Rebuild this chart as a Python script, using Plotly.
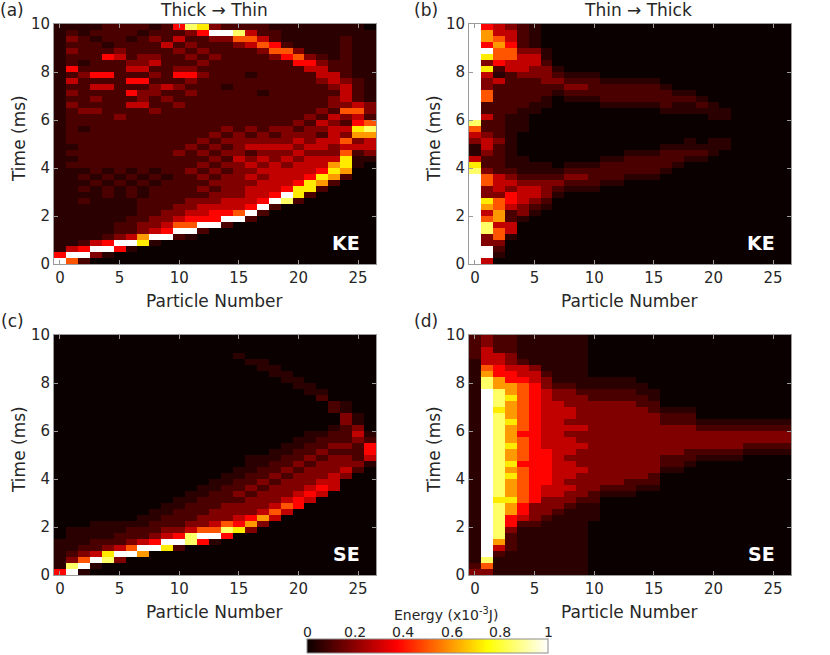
import plotly.graph_objects as go

FONT = "DejaVu Sans"

PARTICLES = [0, 1, 2, 3, 4, 5, 6, 7, 8, 9, 10, 11, 12, 13, 14, 15, 16, 17, 18,
             19, 20, 21, 22, 23, 24, 25, 26]
TIME_MS = [0.125, 0.375, 0.625, 0.875, 1.125, 1.375, 1.625, 1.875, 2.125, 2.375,
           2.625, 2.875, 3.125, 3.375, 3.625, 3.875, 4.125, 4.375, 4.625, 4.875,
           5.125, 5.375, 5.625, 5.875, 6.125, 6.375, 6.625, 6.875, 7.125, 7.375,
           7.625, 7.875, 8.125, 8.375, 8.625, 8.875, 9.125, 9.375, 9.625, 9.875]

# energy levels (x1e-3 J), one character per cell
LEVEL_KEY = "0123456789a"
LEVEL_VALUES = [0.0, 0.05, 0.1, 0.18, 0.28, 0.38, 0.5, 0.6, 0.72, 0.85, 1.0]

# (a) KE, thick -> thin: one string per time row, top row (t~10 ms) first
KE_THICK_ROWS = [
    "1111222212 59832 22211 11111 10",
    "1212222122 235aa 94221 11111 11",
    "1321221232 42233 66421 11112 11",
    "1222122224 23222 34652 11112 11",
    "1322232222 32322 22366 31112 11",
    "1222542332 23232 22235 63212 11",
    "1212223342 22322 22222 55322 11",
    "1522224422 33222 22222 24422 11",
    "1235522232 55322 21222 22442 11",
    "1422225522 23222 22222 22343 21",
    "1224422234 32221 22222 22234 21",
    "1322225332 23222 22122 22224 21",
    "1223222323 22222 22222 22234 21",
    "1322224422 32222 22222 22233 43",
    "1233222232 22222 22222 22326 63",
    "1222232222 22222 22222 23243 42",
    "1222222222 22222 22222 32432 56",
    "1212222222 22223 23233 23344 89",
    "1222222222 22232 32323 33243 77",
    "1222222222 22323 33333 43446 34",
    "1122222222 23232 34444 34434 44",
    "1222222222 32323 32333 43336 23",
    "1122222222 22232 43434 34448 11",
    "1222222222 22323 34343 44478 10",
    "1112121212 23232 33444 44587 00",
    "1121212121 22323 34344 45872 00",
    "1112121212 22233 33444 58720 00",
    "1121212122 22323 34445 88200 00",
    "1111212122 22233 3445a 82000 00",
    "1121111222 23334 445a9 20000 00",
    "1111111222 33444 45a20 00000 00",
    "1111111223 34455 6a200 00000 00",
    "1111112233 4555a a2000 00000 00",
    "1111122334 66aa2 00000 00000 00",
    "1111122345 aa200 00000 00000 00",
    "11112347aa 21000 00000 00000 00",
    "11245aa810 00000 00000 00000 00",
    "145aa51000 00000 00000 00000 00",
    "5aa3100000 00000 00000 00000 00",
    "a620000000 00000 00000 00000 00",
]

# (b) KE, thin -> thick: one string per particle, time 0 -> 10 ms
KE_THIN_COLS = [
    "aaaaaaaaaa aaaaa98411 3469aaaaaa aaaaaaaaaa",
    "4aa3399647 8336632234 4322422663 34838a5775",
    "0123664776 6344422222 3222222222 4125667644",
    "0000144224 5534321111 1111122222 2244665443",
    "0000000133 4443211100 0011112222 2344432222",
    "0000000012 3443211000 0000011222 2334431111",
    "0000000001 2333211000 0000001122 3332110000",
    "0000000000 0123210000 0000000012 3210000000",
    "0000000000 0012321000 0000000123 2100000000",
    "0000000000 0012321000 0000000123 2100000000",
    "0000000000 0012221000 0000000122 2100000000",
    "0000000000 0001222100 0000001222 1000000000",
    "0000000000 0001222100 0000001222 1000000000",
    "0000000000 0000122210 0000001222 1000000000",
    "0000000000 0000122210 0000001222 1000000000",
    "0000000000 0000122210 0000001222 1000000000",
    "0000000000 0000012221 0000012221 0000000000",
    "0000000000 0000001221 0000011210 0000000000",
    "0000000000 0000000121 1000011210 0000000000",
    "0000000000 0000000121 0000012100 0000000000",
    "0000000000 0000000011 1000111000 0000000000",
    "0000000000 0000000001 1000110000 0000000000",
    "0000000000 0000000000 0000000000 0000000000",
    "0000000000 0000000000 0000000000 0000000000",
    "0000000000 0000000000 0000000000 0000000000",
    "0000000000 0000000000 0000000000 0000000000",
    "0000000000 0000000000 0000000000 0000000000",
]

# (c) SE, thick -> thin: one string per particle, time 0 -> 10 ms
SE_THICK_COLS = [
    "5111110000 0000000000 0000000000 0000000000",
    "a932111100 0000000000 0000000000 0000000000",
    "1a63211100 0000000000 0000000000 0000000000",
    "01a4221110 0000000000 0000000000 0000000000",
    "0098321110 0000000000 0000000000 0000000000",
    "003a422110 0000000000 0000000000 0000000000",
    "000a632210 0000000000 0000000000 0000000000",
    "0007a42211 0000000000 0000000000 0000000000",
    "0000a53221 1000000000 0000000000 0000000000",
    "00008a4322 1100000000 0000000000 0000000000",
    "00002a5322 2110000000 0000000000 0000000000",
    "0000099432 2211000000 0000000000 0000000000",
    "000005a633 2221100000 0000000000 0000000000",
    "000001a643 3222110000 0000000000 0000000000",
    "0000005963 3322211000 0000000000 0000000000",
    "0000000854 3323221100 0000000000 0000001000",
    "0000000375 3332322111 0000000000 0000010000",
    "0000000037 4333232211 0000000000 0000110000",
    "0000000004 6433323221 1000000000 0001100000",
    "0000000000 4643332322 1100000000 0011000000",
    "0000000000 0554333232 2110000000 0110000000",
    "0000000000 0045433323 2211000000 1100000000",
    "0000000000 0004543332 3221000002 1000000000",
    "0000000000 0000444333 2322100220 0000000000",
    "0000000000 0000003433 2322233110 0000000000",
    "0000000000 0000000232 2234311000 0000000000",
    "0000000000 0000000014 5521000000 0000000000",
]

# (d) SE, thin -> thick: one string per particle, time 0 -> 10 ms
SE_THIN_COLS = [
    "3211111111 1111111111 1111111111 1111112222",
    "369aaaaaaa aaaaaaaaaa aaaaaaaaaa a997644433",
    "1112479999 9989999999 9999999899 9775544222",
    "1111222355 7787778787 7877787778 7755433222",
    "1111111124 5566666656 6665666666 6654421111",
    "1111111123 3355555555 5555555555 5544311111",
    "1111111112 3334455555 5444444444 4332111111",
    "1111111111 2334444444 4444444443 3211111111",
    "1111111111 1233434443 4443434433 3211111111",
    "1111111111 1123333433 3433433333 2111111111",
    "0000000001 1122333333 3333333332 2110000000",
    "0000000000 0001233333 3333333332 2110000000",
    "0000000000 0001233333 3333333332 2110000000",
    "0000000000 0001223333 3333333332 2110000000",
    "0000000000 0000123333 3333333322 1100000000",
    "0000000000 0000122333 3333333221 1000000000",
    "0000000000 0000000122 3333322100 0000000000",
    "0000000000 0000000122 3333322100 0000000000",
    "0000000000 0000000012 2333322100 0000000000",
    "0000000000 0000000001 2333210000 0000000000",
    "0000000000 0000000001 2333210000 0000000000",
    "0000000000 0000000001 2333210000 0000000000",
    "0000000000 0000000001 2333210000 0000000000",
    "0000000000 0000000000 1233210000 0000000000",
    "0000000000 0000000000 1233210000 0000000000",
    "0000000000 0000000000 1233210000 0000000000",
    "0000000000 0000000000 1233210000 0000000000",
]

PANEL_TITLES = ["Thick \u2192 Thin", "Thin \u2192 Thick"]
PANEL_LETTERS = ["(a)", "(b)", "(c)", "(d)"]
PANEL_TAGS = ["KE", "KE", "SE", "SE"]

CBAR_TICKS = [0, 0.2, 0.4, 0.6, 0.8, 1]
CBAR_LABELS = ["0", "0.2", "0.4", "0.6", "0.8", "1"]

# MATLAB-like "hot" map
HOT = [[0.0, "rgb(10,0,0)"], [0.375, "rgb(255,0,0)"],
       [0.75, "rgb(255,255,0)"], [1.0, "rgb(255,255,255)"]]


def decode(code):
    code = code.replace(" ", "")
    return [LEVEL_VALUES[LEVEL_KEY.index(ch)] for ch in code]


def grid_from_rows(rows_top_down):
    z = [decode(r) for r in rows_top_down][::-1]
    for i, row in enumerate(z):
        assert len(row) == len(PARTICLES), ("row", i, len(row))
    assert len(z) == len(TIME_MS)
    return z


def grid_from_columns(cols):
    per_particle = [decode(c) for c in cols]
    assert len(per_particle) == len(PARTICLES)
    for p, col in enumerate(per_particle):
        assert len(col) == len(TIME_MS), ("col", p, len(col))
    return [[per_particle[p][t] for p in range(len(PARTICLES))]
            for t in range(len(TIME_MS))]


grids = [
    grid_from_rows(KE_THICK_ROWS),
    grid_from_columns(KE_THIN_COLS),
    grid_from_columns(SE_THICK_COLS),
    grid_from_columns(SE_THIN_COLS),
]

W, H = 830, 655


def px(x):
    return x / W


def py(y):
    return 1 - y / H


# plot boxes in pixels (left, right, top, bottom)
boxes = [(54, 376, 24, 264), (469, 791, 24, 264),
         (54, 376, 335, 575), (469, 791, 335, 575)]

fig = go.Figure()
axis_font = dict(family=FONT, size=15, color="#262626")
line_col = "#9a9a9a"

layout_axes = {}
for i, (z, (l, r, t, b)) in enumerate(zip(grids, boxes)):
    n = "" if i == 0 else str(i + 1)
    trace = go.Heatmap(
        x=PARTICLES, y=TIME_MS, z=z, zmin=0, zmax=1, colorscale=HOT,
        xaxis="x" + n, yaxis="y" + n, showscale=(i == 0), hoverinfo="skip",
    )
    if i == 0:
        trace.colorbar = dict(
            orientation="h", x=px(307), xanchor="left", y=py(654),
            yanchor="bottom", len=241 / W, lenmode="fraction", thickness=14,
            xpad=0, ypad=0, outlinewidth=1, outlinecolor="#8c8c8c",
            showticklabels=False, ticks="",
        )
    fig.add_trace(trace)
    common = dict(ticks="inside", ticklen=4, tickcolor=line_col,
                  showline=True, linecolor=line_col, linewidth=1,
                  mirror="ticks", showgrid=False, zeroline=False,
                  tickfont=axis_font, automargin=False)
    layout_axes["xaxis" + n] = dict(
        domain=[px(l), px(r)], anchor="y" + n, range=[-0.5, 26.5],
        tickvals=[0, 5, 10, 15, 20, 25], **common)
    layout_axes["yaxis" + n] = dict(
        domain=[py(b), py(t)], anchor="x" + n, range=[0, 10],
        tickvals=[0, 2, 4, 6, 8, 10], **common)

annotations = []
txt = dict(family=FONT, size=17, color="#262626")

# panel letters, axis titles, KE / SE tags
for i, (l, r, t, b) in enumerate(boxes):
    lx = 12 if l < 400 else 426
    annotations.append(dict(text=PANEL_LETTERS[i], x=px(lx), y=py(t - 14),
                            xref="paper", yref="paper", showarrow=False,
                            font=txt, xanchor="center", yanchor="middle"))
    annotations.append(dict(text="Time (ms)", x=px(l - 35), y=py((t + b) / 2 - 5),
                            xref="paper", yref="paper", showarrow=False,
                            font=txt, textangle=-90,
                            xanchor="center", yanchor="middle"))
    annotations.append(dict(text="Particle Number", x=px((l + r) / 2 - 1),
                            y=py(b + 37), xref="paper", yref="paper",
                            showarrow=False, font=txt,
                            xanchor="center", yanchor="middle"))
    n = "" if i == 0 else str(i + 1)
    annotations.append(dict(text="<b>%s</b>" % PANEL_TAGS[i], x=24.0, y=0.88,
                            xref="x" + n, yref="y" + n, showarrow=False,
                            font=dict(family=FONT, size=19, color="white"),
                            xanchor="center", yanchor="middle"))

for title, cx in zip(PANEL_TITLES, [214, 638]):
    annotations.append(dict(text=title, x=px(cx), y=py(10), xref="paper",
                            yref="paper", showarrow=False, font=txt,
                            xanchor="center", yanchor="middle"))

# colour bar labels (drawn above the bar as in the original)
for v, lab in zip(CBAR_TICKS, CBAR_LABELS):
    annotations.append(dict(text=lab, x=px(307 + 241 * v), y=py(632),
                            xref="paper", yref="paper", showarrow=False,
                            font=dict(family=FONT, size=14, color="#262626"),
                            xanchor="center", yanchor="middle"))
annotations.append(dict(text="Energy (x10<sup>-3</sup>J)", x=px(446), y=py(614),
                        xref="paper", yref="paper", showarrow=False,
                        font=dict(family=FONT, size=14, color="#262626"),
                        xanchor="center", yanchor="middle"))

fig.update_layout(
    width=W, height=H, margin=dict(l=0, r=0, t=0, b=0, autoexpand=False),
    paper_bgcolor="white", plot_bgcolor="white",
    font=dict(family=FONT), showlegend=False,
    annotations=annotations, **layout_axes,
)

# the page's default body margin would push the figure 8px off the window
fig.write_html("out.html", config={"displayModeBar": False},
               post_script="document.body.style.margin='0';")
